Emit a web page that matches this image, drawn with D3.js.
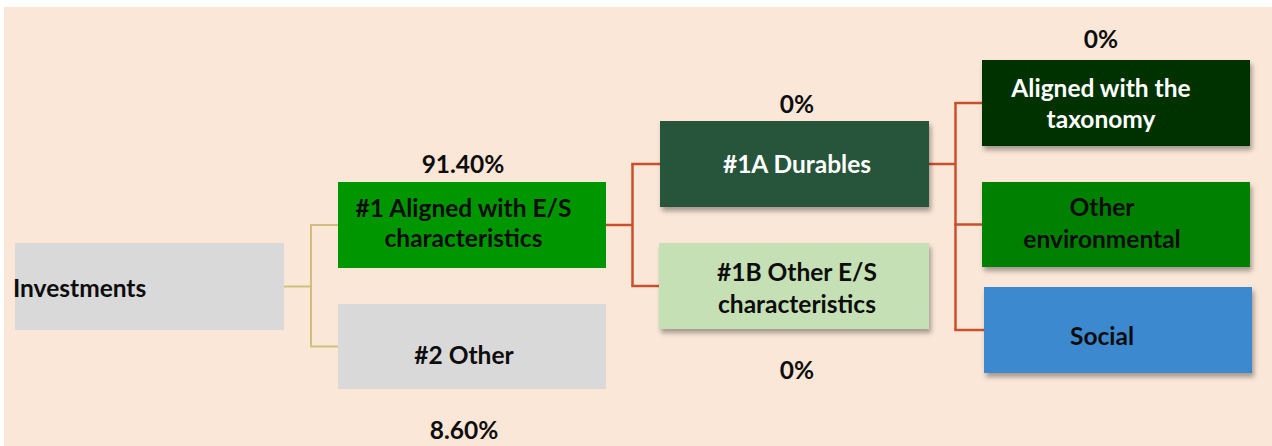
<!DOCTYPE html>
<html>
<head>
<meta charset="utf-8">
<script src="https://cdn.jsdelivr.net/npm/d3@7"></script>
<style>
  html, body { margin: 0; padding: 0; background: #ffffff; }
  svg { display: block; }
  text { font-family: Lato, "Open Sans", sans-serif; font-weight: 700; }
</style>
</head>
<body>
<svg id="chart" width="1272" height="446"></svg>
<script>
// ---- data ----
const nodeIds      = ["inv", "es", "other", "dur", "oes", "tax", "env", "soc"];
const nodeLabels   = [["Investments"], ["#1 Aligned with E/S", "characteristics"], ["#2 Other"],
                      ["#1A Durables"], ["#1B Other E/S", "characteristics"],
                      ["Aligned with the", "taxonomy"], ["Other", "environmental"], ["Social"]];
const nodeShares   = [null, 91.40, 8.60, 0, 0, 0, null, null];
const shareLabels  = [null, "91.40%", "8.60%", "0%", "0%", "0%", null, null];
const nodeParents  = [null, "inv", "inv", "es", "es", "dur", "dur", "dur"];

// ---- styles ----
const fills     = { inv: "#d9d9d9", es: "#009600", other: "#d9d9d9", dur: "#25553a",
                    oes: "#c5e0b4", tax: "#003300", env: "#008000", soc: "#3e89d0" };
const textFill  = { dur: "#ffffff", tax: "#ffffff" };
const shadowed  = new Set(["dur", "oes", "tax", "env", "soc"]);
const fontSize  = 24.5;

// ---- layout (boxes: x0, y0, x1, y1) ----
const layout = {
  inv:   { box: [15, 243, 284, 330], text: { x: 13, anchor: "start", base: [297] } },
  es:    { box: [338, 182, 606, 268], text: { x: 463.5, base: [217, 247] }, share: { x: 463, y: 173 } },
  other: { box: [338, 304, 606, 389], text: { x: 464, base: [364] }, share: { x: 464, y: 439 } },
  dur:   { box: [660, 121, 929, 207], text: { x: 797, base: [173] }, share: { x: 797, y: 113 } },
  oes:   { box: [659, 243, 929, 329], text: { x: 797, base: [281, 313] }, share: { x: 797, y: 379 } },
  tax:   { box: [982, 60, 1250, 146], text: { x: 1101, base: [97, 128] }, share: { x: 1101, y: 48 } },
  env:   { box: [982, 182, 1250, 267], text: { x: 1102, base: [216, 248] } },
  soc:   { box: [984, 287, 1252, 373], text: { x: 1102, base: [345] } }
};
const connectorColor = { inv: "#cfc17b", es: "#c8502d", dur: "#c8502d" };
const connectorWidth = { inv: 2, es: 2.5, dur: 2.5 };

const nodes = nodeIds.map((id, i) => ({
  id, lines: nodeLabels[i], share: nodeShares[i], shareLabel: shareLabels[i], parent: nodeParents[i]
}));

const svg = d3.select("#chart");
const defs = svg.append("defs");
const f = defs.append("filter").attr("id", "shadow")
  .attr("x", "-10%").attr("y", "-10%").attr("width", "130%").attr("height", "140%");
f.append("feDropShadow").attr("dx", 2).attr("dy", 4).attr("stdDeviation", 2.5)
  .attr("flood-color", "#000").attr("flood-opacity", 0.35);

// background panel
svg.append("rect").attr("x", 4).attr("y", 7).attr("width", 1268).attr("height", 439).attr("fill", "#fae7d7");

// connectors
const x = d3.scaleIdentity();
const y = d3.scaleIdentity();
const parentsWithKids = d3.groups(nodes.filter(n => n.parent), n => n.parent);
const gLinks = svg.append("g");
parentsWithKids.forEach(([pid, kids]) => {
  const pb = layout[pid].box;
  const py = (pb[1] + pb[3]) / 2;
  const kidX = d3.min(kids, k => layout[k.id].box[0]);
  const midX = pb[2] + (kidX - pb[2]) * 0.5;
  const kidYs = kids.map(k => { const b = layout[k.id].box; return (b[1] + b[3]) / 2; });
  const col = connectorColor[pid], w = connectorWidth[pid];
  const line = d3.line().x(d => x(d[0])).y(d => y(d[1]));
  gLinks.append("path").attr("d", line([[pb[2], py], [midX, py]]))
    .attr("stroke", col).attr("stroke-width", w).attr("fill", "none");
  gLinks.append("path").attr("d", line([[midX, d3.min(kidYs)], [midX, d3.max(kidYs)]]))
    .attr("stroke", col).attr("stroke-width", w).attr("fill", "none");
  kids.forEach((k, i) => {
    const b = layout[k.id].box;
    gLinks.append("path").attr("d", line([[midX - w / 2, kidYs[i]], [b[0], kidYs[i]]]))
      .attr("stroke", col).attr("stroke-width", w).attr("fill", "none");
  });
});

// boxes
const gNodes = svg.append("g").selectAll("g").data(nodes).join("g");
gNodes.append("rect")
  .attr("x", d => x(layout[d.id].box[0]))
  .attr("y", d => y(layout[d.id].box[1]))
  .attr("width", d => layout[d.id].box[2] - layout[d.id].box[0])
  .attr("height", d => layout[d.id].box[3] - layout[d.id].box[1])
  .attr("fill", d => fills[d.id])
  .attr("filter", d => shadowed.has(d.id) ? "url(#shadow)" : null);

gNodes.each(function(d) {
  const L = layout[d.id].text;
  const g = d3.select(this);
  d.lines.forEach((s, i) => {
    g.append("text")
      .attr("x", L.x).attr("y", L.base[i])
      .attr("text-anchor", L.anchor || "middle")
      .attr("font-size", fontSize)
      .attr("fill", textFill[d.id] || "#0d0d0d")
      .text(s);
  });
  if (d.shareLabel) {
    const S = layout[d.id].share;
    g.append("text").attr("x", S.x).attr("y", S.y)
      .attr("text-anchor", "middle").attr("font-size", fontSize)
      .attr("fill", "#0d0d0d").text(d.shareLabel);
  }
});
</script>
</body>
</html>
